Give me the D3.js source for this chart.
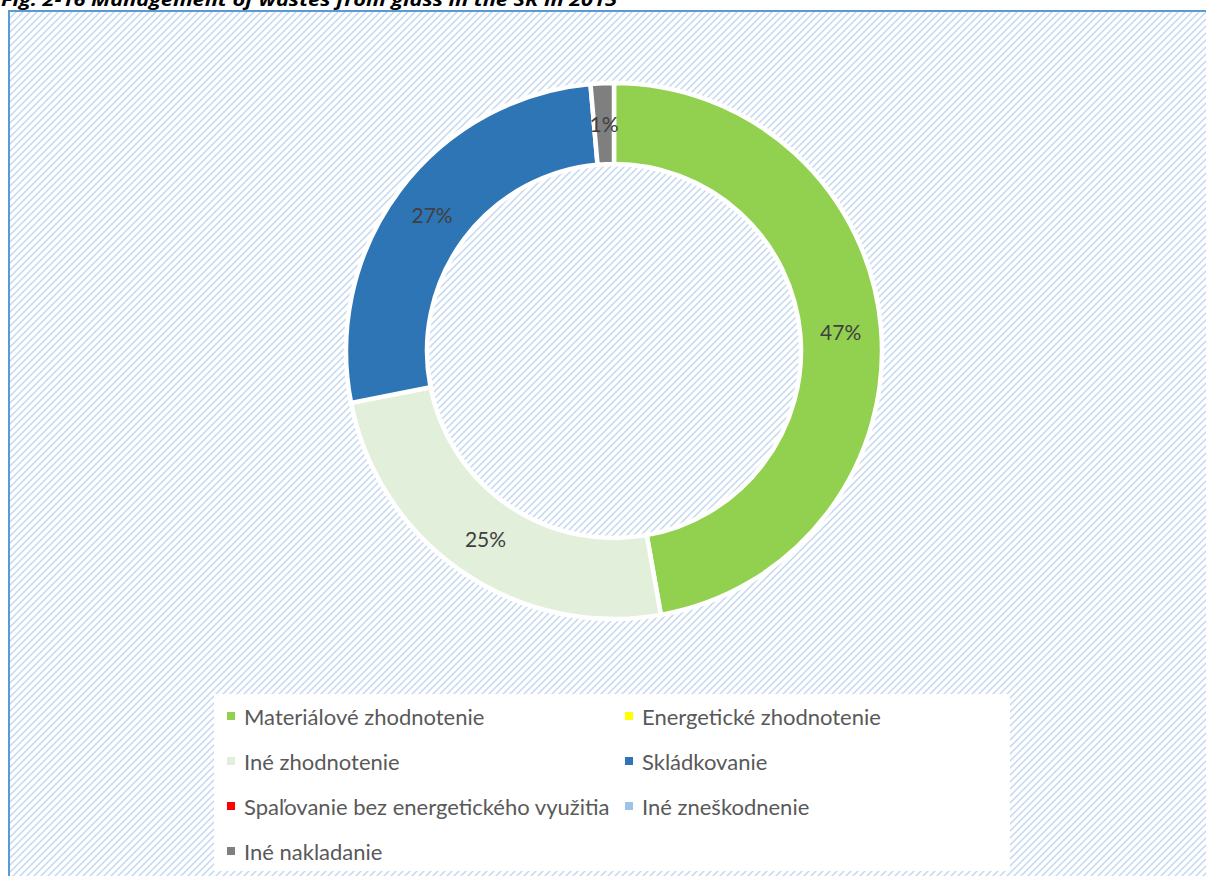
<!DOCTYPE html>
<html>
<head>
<meta charset="utf-8">
<script src="https://cdn.jsdelivr.net/npm/d3@7"></script>
<style>
  html, body { margin: 0; padding: 0; background: #fff; overflow: hidden; }
  svg { display: block; }
</style>
</head>
<body>
<svg id="chart" width="1206" height="876"></svg>
<script>
// Waste glass management categories and their shares (%)
const categories = [
  "Materiálové zhodnotenie",
  "Energetické zhodnotenie",
  "Iné zhodnotenie",
  "Skládkovanie",
  "Spaľovanie bez energetického využitia",
  "Iné zneškodnenie",
  "Iné nakladanie"
];
const shares = [47.2, 0, 24.7, 26.7, 0, 0, 1.4];
const colors = ["#92d050", "#ffff00", "#e2efda", "#2e75b6", "#ff0000", "#9dc3e6", "#7f7f7f"];
const titleText = "Fig. 2-16 Management of wastes from glass in the SR in 2015";

const data = categories.map((c, i) => ({ name: c, value: shares[i], color: colors[i] }));
const total = d3.sum(shares);

const svg = d3.select("#chart");
const W = 1206, H = 876;
const font = "Lato, 'Open Sans', sans-serif";

// hatched chart area background
const defs = svg.append("defs");
const P = 7;
const pat = defs.append("pattern")
  .attr("id", "hatch")
  .attr("patternUnits", "userSpaceOnUse")
  .attr("width", P).attr("height", P);
pat.append("rect").attr("width", P).attr("height", P).attr("fill", "#ffffff");
pat.append("path")
  .attr("d", `M-1,${P + 1} L${P + 1},-1 M-${P / 2 + 1},${P / 2 + 1} L${P / 2 + 1},-${P / 2 + 1} M${P / 2 - 1},${P * 1.5 + 1} L${P * 1.5 + 1},${P / 2 - 1}`)
  .attr("stroke", "#c4d9f1")
  .attr("stroke-width", 1.5);

svg.append("rect")
  .attr("x", 9).attr("y", 11)
  .attr("width", W + 50).attr("height", H + 50)
  .attr("fill", "url(#hatch)")
  .attr("stroke", "#5b9bd5")
  .attr("stroke-width", 2);

// title (sits above the frame)
svg.append("text")
  .attr("x", 1).attr("y", 6)
  .attr("font-family", "'Open Sans', sans-serif")
  .attr("font-weight", "bold")
  .attr("font-style", "italic")
  .attr("font-size", 17)
  .attr("textLength", 616)
  .attr("lengthAdjust", "spacingAndGlyphs")
  .attr("fill", "#000")
  .text(titleText);

// donut
const cx = 614, cy = 351;
const outerR = 268, innerR = 187;
const pie = d3.pie().value(d => d.value).sort(null).startAngle(0).endAngle(2 * Math.PI);
const arc = d3.arc().innerRadius(innerR).outerRadius(outerR);
const labelArc = d3.arc().innerRadius((innerR + outerR) / 2).outerRadius((innerR + outerR) / 2);

const g = svg.append("g").attr("transform", `translate(${cx},${cy})`);
const arcs = pie(data).filter(d => d.data.value > 0);

g.selectAll("path.slice")
  .data(arcs)
  .join("path")
  .attr("class", "slice")
  .attr("d", arc)
  .attr("fill", d => d.data.color)
  .attr("stroke", "#ffffff")
  .attr("stroke-width", 4.5)
  .attr("stroke-linejoin", "miter");

g.selectAll("text.lbl")
  .data(arcs)
  .join("text")
  .attr("class", "lbl")
  .attr("transform", d => `translate(${labelArc.centroid(d)})`)
  .attr("text-anchor", "middle")
  .attr("dominant-baseline", "central")
  .attr("font-family", font)
  .attr("font-size", 21)
  .attr("fill", "#404040")
  .text(d => Math.round(d.data.value / total * 100) + "%");

// legend
const lg = svg.append("g");
lg.append("rect")
  .attr("x", 214).attr("y", 694)
  .attr("width", 796).attr("height", 177)
  .attr("fill", "#ffffff");

const colX = [227, 625];
const rowY = [716, 761, 806, 851];
const items = lg.selectAll("g.item")
  .data(data)
  .join("g")
  .attr("class", "item")
  .attr("transform", (d, i) => `translate(${colX[i % 2]},${rowY[Math.floor(i / 2)]})`);
items.append("rect")
  .attr("x", 0).attr("y", -4)
  .attr("width", 8).attr("height", 8)
  .attr("fill", d => d.color);
items.append("text")
  .attr("x", 17).attr("y", 0)
  .attr("dominant-baseline", "central")
  .attr("font-family", font)
  .attr("font-size", 22)
  .attr("fill", "#595959")
  .text(d => d.name);
</script>
</body>
</html>
